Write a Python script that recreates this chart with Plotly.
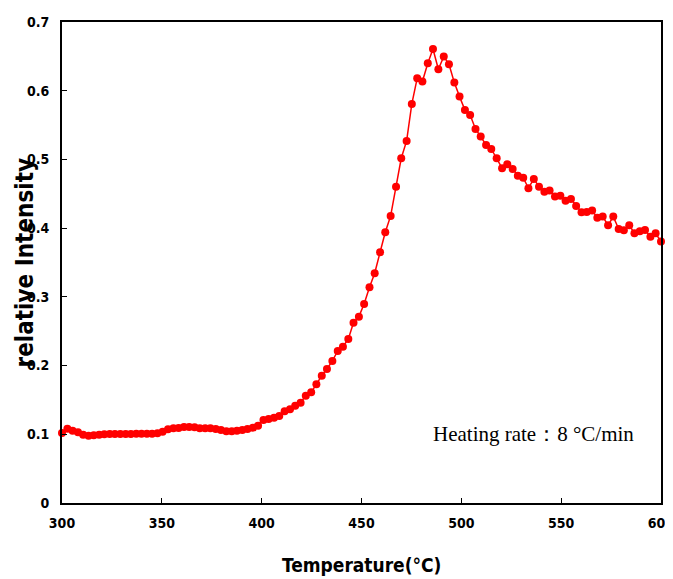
import plotly.graph_objects as go

temperature = [
    300.0, 302.7, 305.3, 308.0, 310.6, 313.3, 315.9, 318.6, 321.2, 323.9,
    326.5, 329.2, 331.9, 334.5, 337.2, 339.8, 342.5, 345.1, 347.8, 350.4,
    353.1, 355.8, 358.4, 361.1, 363.7, 366.4, 369.0, 371.7, 374.3, 377.0,
    379.6, 382.3, 385.0, 387.6, 390.3, 392.9, 395.6, 398.2, 400.9, 403.5,
    406.2, 408.8, 411.5, 414.2, 416.8, 419.5, 422.1, 424.8, 427.4, 430.1,
    432.7, 435.4, 438.1, 440.7, 443.4, 446.0, 448.7, 451.3, 454.0, 456.6,
    459.3, 461.9, 464.6, 467.3, 469.9, 472.6, 475.2, 477.9, 480.5, 483.2,
    485.8, 488.5, 491.2, 493.8, 496.5, 499.1, 501.8, 504.4, 507.1, 509.7,
    512.4, 515.0, 517.7, 520.4, 523.0, 525.7, 528.3, 531.0, 533.6, 536.3,
    538.9, 541.6, 544.2, 546.9, 549.6, 552.2, 554.9, 557.5, 560.2, 562.8,
    565.5, 568.1, 570.8, 573.5, 576.1, 578.8, 581.4, 584.1, 586.7, 589.4,
    592.0, 594.7, 597.3, 600.0,
]

intensity = [
    0.102, 0.108, 0.105, 0.103, 0.0995, 0.098, 0.0985, 0.0995, 0.100, 0.1004,
    0.1004, 0.1004, 0.1004, 0.1004, 0.1009, 0.1009, 0.1009, 0.1009, 0.1014, 0.1038,
    0.1072, 0.1087, 0.1092, 0.1106, 0.1106, 0.1101, 0.1087, 0.1087, 0.1087, 0.1077,
    0.1063, 0.1043, 0.1043, 0.1053, 0.1063, 0.1077, 0.1096, 0.1125, 0.1208, 0.1223,
    0.1242, 0.1266, 0.1334, 0.1363, 0.1417, 0.146, 0.1562, 0.1611, 0.1728, 0.1853,
    0.195, 0.2067, 0.2213, 0.2275, 0.2387, 0.2624, 0.2712, 0.2897, 0.314, 0.3343,
    0.3649, 0.394, 0.4178, 0.4604, 0.5017, 0.5269, 0.5808, 0.6182, 0.6133, 0.640,
    0.6608, 0.6313, 0.6497, 0.6386, 0.6118, 0.5914, 0.572, 0.5648, 0.5444, 0.5332,
    0.5211, 0.5153, 0.5017, 0.4872, 0.493, 0.4862, 0.4764, 0.4735, 0.4581, 0.4716,
    0.4604, 0.4531, 0.4546, 0.4459, 0.4473, 0.440, 0.4425, 0.4323, 0.4231, 0.4236,
    0.4255, 0.4153, 0.4168, 0.4042, 0.4168, 0.3988, 0.3969, 0.4042, 0.3926, 0.3955,
    0.3974, 0.3876, 0.3926, 0.3804,
]

x_ticks = [300, 350, 400, 450, 500, 550, 600]
y_ticks = [0, 0.1, 0.2, 0.3, 0.4, 0.5, 0.6, 0.7]
y_tick_labels = ["0", "0.1", "0.2", "0.3", "0.4", "0.5", "0.6", "0.7"]

x_title = "Temperature(°C)"
y_title = "relative Intensity"
note = "Heating rate：8 °C/min"

narrow = "DejaVu Sans Condensed, Liberation Sans Narrow, Arial Narrow, Liberation Sans, sans-serif"

fig = go.Figure()
fig.add_trace(go.Scatter(
    x=temperature, y=intensity, mode="lines+markers",
    line=dict(color="#FF0000", width=1.5),
    marker=dict(color="#FF0000", size=8),
    cliponaxis=False, showlegend=False, hoverinfo="skip",
))

axis_common = dict(
    showline=True, linecolor="black", linewidth=2, mirror=True,
    ticks="inside", ticklen=5, tickwidth=1, tickcolor="black",
    showgrid=False, zeroline=False, automargin=False,
)

# the page body adds an 8px offset, so the margins are reduced by 8 on the left/top
fig.update_layout(
    width=673, height=579,
    margin=dict(l=54, r=20, t=14, b=84),
    plot_bgcolor="white", paper_bgcolor="white",
    xaxis=dict(range=[300, 600], tickvals=x_ticks,
               tickfont=dict(family=narrow, size=14, color="black", weight="bold"),
               ticklabelstandoff=6,
               **axis_common),
    yaxis=dict(range=[0, 0.7], tickvals=y_ticks, ticktext=y_tick_labels,
               tickfont=dict(family=narrow, size=14, color="black", weight="bold"),
               ticklabelstandoff=8,
               **axis_common),
    annotations=[
        dict(text=y_title, textangle=-90, xref="paper", yref="paper",
             x=0, y=0.5, xanchor="center", yanchor="middle", xshift=-38,
             showarrow=False,
             font=dict(family=narrow, size=24, color="black", weight="bold")),
        dict(text=x_title, xref="paper", yref="paper",
             x=0.5, y=0, xanchor="center", yanchor="middle", yshift=-62,
             showarrow=False,
             font=dict(family=narrow, size=19, color="black", weight="bold")),
        dict(text=note, xref="x", yref="y", x=536, y=0.1,
             xanchor="center", yanchor="middle", showarrow=False,
             font=dict(family="Liberation Serif, Times New Roman, serif", size=21, color="black")),
    ],
)

fig.write_html("out.html", config={"displayModeBar": False})
